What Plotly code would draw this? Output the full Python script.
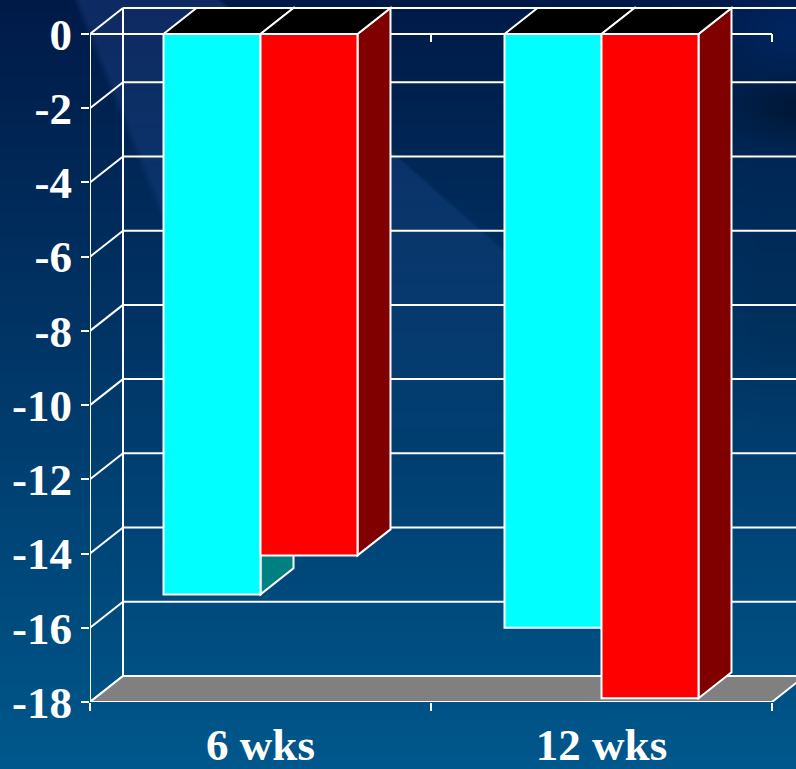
import base64, struct, zlib
import numpy as np
import plotly.graph_objects as go

categories = ["6 wks", "12 wks"]
cyan_values = [-15.1, -16.0]
red_values = [-14.05, -17.9]
y_ticks = [0, -2, -4, -6, -8, -10, -12, -14, -16, -18]

W, H = 796, 769
AX_L, AX_R, AX_T, AX_B, TOP = 90, 772, 34, 702, 6
ppu = (AX_B - AX_T) / 18
ppc = (AX_R - AX_L) / 2
dx, dy = 33 / ppc, 26 / ppu
half = 97 / ppc


def background_png():
    yy, xx = np.mgrid[0:H, 0:W].astype(float)
    t = yy / H
    base = np.stack([0 * t, 26 + 62 * t, 72 + 68 * t], axis=-1)
    # lighter wedge of the slide background
    upper = np.clip((yy - 0.88 * (xx - 222)) / 5, 0, 1)
    leftedge = np.clip((xx - (72 + 0.4 * yy)) / 8, 0, 1)
    lower = np.clip((230 + (xx - 165) * 1.0 - yy) / 8, 0, 1)
    fade = np.clip(1 - yy / 450, 0, 1) ** 0.7
    wedge = upper * leftedge * lower * fade
    base += wedge[..., None] * np.array([15, 16, 26])
    top_r = np.exp(-(((xx - 790) / 60) ** 2 + ((yy - 25) / 40) ** 2))
    base += top_r[..., None] * np.array([0, 8, 20])
    dark = np.exp(-(((xx - 795) / 60) ** 2 + ((yy - 110) / 30) ** 2))
    base -= dark[..., None] * np.array([0, 10, 24])
    right = np.clip((xx - 700) / 60, 0, 1) * np.exp(-((yy - 320) / 90) ** 2)
    base -= right[..., None] * np.array([0, 4, 8])
    arr = np.clip(base, 0, 255).astype(np.uint8)
    raw = b"".join(b"\x00" + arr[i].tobytes() for i in range(H))

    def chunk(tag, data):
        return struct.pack(">I", len(data)) + tag + data + struct.pack(">I", zlib.crc32(tag + data))

    png = b"\x89PNG\r\n\x1a\n" + chunk(b"IHDR", struct.pack(">IIBBBBB", W, H, 8, 2, 0, 0, 0))
    png += chunk(b"IDAT", zlib.compress(raw, 9)) + chunk(b"IEND", b"")
    return "data:image/png;base64," + base64.b64encode(png).decode()


LINE = dict(color="white", width=2)
shapes = []


def seg(x0, y0, x1, y1, width=2):
    shapes.append(dict(type="line", xref="x", yref="y", x0=x0, y0=y0, x1=x1, y1=y1,
                       line=dict(color="white", width=width), layer="below"))


def poly(points, fill):
    path = "M " + " L ".join(f"{x:.4f},{y:.4f}" for x, y in points) + " Z"
    shapes.append(dict(type="path", xref="x", yref="y", path=path, fillcolor=fill,
                       line=LINE, layer="below"))


x_left, x_right = -0.5, 1.5
y_bottom = y_ticks[-1]
# walls
for v in y_ticks:
    seg(x_left, v, x_left + dx, v + dy)
    if v != y_bottom:
        seg(x_left + dx, v + dy, x_right + dx, v + dy)
seg(x_left + dx, y_bottom + dy, x_left + dx, dy)
# floor
poly([(x_left, y_bottom), (x_left + dx, y_bottom + dy), (x_right + dx, y_bottom + dy), (x_right, y_bottom)], "#808080")
# axis frame
seg(x_left, 0, x_right, 0)
seg(x_left, 0, x_left, y_bottom)
seg(x_right, 0, x_right, -8 / ppu)
seg(0.5, 0, 0.5, -8 / ppu)
# 3-D faces of bars
for i in range(len(categories)):
    for sign, vals, side in ((-1, cyan_values, "#008080"), (1, red_values, "#800000")):
        xl = i - half if sign < 0 else i
        xr = i if sign < 0 else i + half
        v = vals[i]
        poly([(xr, 0), (xr + dx, dy), (xr + dx, v + dy), (xr, v)], side)
        poly([(xl, 0), (xl + dx, dy), (xr + dx, dy), (xr, 0)], "#000000")

fig = go.Figure()
fig.add_bar(x=categories, y=cyan_values, marker=dict(color="#00FFFF", line=LINE), name="A")
fig.add_bar(x=categories, y=red_values, marker=dict(color="#FF0000", line=LINE), name="B")

FONT = dict(family="Liberation Serif", size=45, color="white", weight=700)
fig.update_layout(
    width=W, height=H, margin=dict(l=0, r=0, t=0, b=0), autosize=False,
    paper_bgcolor="#003c74", plot_bgcolor="rgba(0,0,0,0)",
    showlegend=False, barmode="group", bargap=1 - 2 * half, bargroupgap=0,
    shapes=shapes,
    images=[dict(source=background_png(), xref="paper", yref="paper", x=0, y=1,
                 sizex=1, sizey=1, sizing="stretch", xanchor="left", yanchor="top", layer="below")],
    xaxis=dict(domain=[AX_L / W, 1], range=[x_left, x_left + (W - AX_L) / ppc], type="category",
               categoryorder="array", categoryarray=categories, tickson="boundaries",
               ticks="outside", ticklen=8, tickwidth=2, tickcolor="white", showgrid=False,
               zeroline=False, showline=False, tickfont=FONT, automargin=False,
               ticklabelstandoff=12),
    yaxis=dict(domain=[(H - AX_B) / H, (H - TOP) / H], range=[y_bottom, (AX_T - TOP) / ppu],
               tickmode="array", tickvals=y_ticks, ticktext=[str(v) for v in y_ticks],
               ticks="outside", ticklen=8, tickwidth=2, tickcolor="white", showgrid=False,
               zeroline=False, showline=False, tickfont=FONT, automargin=False),
)
fig.write_html("out.html", config=dict(displayModeBar=False),
               post_script="document.body.style.margin='0';document.documentElement.style.overflow='hidden';")
